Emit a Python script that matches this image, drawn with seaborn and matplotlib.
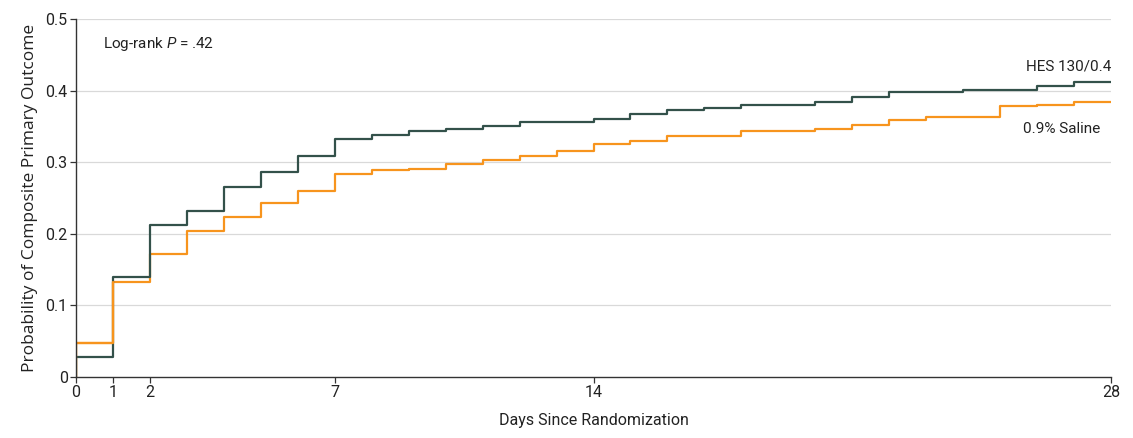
import matplotlib
matplotlib.use("Agg")
import matplotlib.pyplot as plt
import pandas as pd
import seaborn as sns

# Cumulative probability of the composite primary outcome by day
days = [0, 0, 1, 2, 3, 4, 5, 6, 7, 8, 9, 10, 11, 12, 13, 14, 15, 16, 17, 18,
        19, 20, 21, 22, 23, 24, 25, 26, 27, 28]
hes = [0.0, 0.028, 0.139, 0.212, 0.232, 0.266, 0.287, 0.309, 0.333, 0.338,
       0.343, 0.347, 0.351, 0.356, 0.356, 0.360, 0.368, 0.373, 0.376, 0.380,
       0.380, 0.384, 0.391, 0.398, 0.398, 0.401, 0.401, 0.407, 0.412, 0.412]
saline = [0.0, 0.048, 0.132, 0.172, 0.204, 0.224, 0.243, 0.260, 0.284, 0.289,
          0.290, 0.298, 0.303, 0.309, 0.316, 0.325, 0.330, 0.337, 0.337, 0.343,
          0.343, 0.347, 0.352, 0.359, 0.363, 0.363, 0.378, 0.380, 0.384, 0.384]
groups = ["HES 130/0.4", "0.9% Saline"]
x_ticks = [0, 1, 2, 7, 14, 28]
y_ticks = [0, 0.1, 0.2, 0.3, 0.4, 0.5]
y_tick_labels = ["0", "0.1", "0.2", "0.3", "0.4", "0.5"]

df = pd.concat([
    pd.DataFrame({"day": days, "prob": hes, "group": groups[0]}),
    pd.DataFrame({"day": days, "prob": saline, "group": groups[1]}),
], ignore_index=True)

sns.set_theme(style="white")
plt.rcParams["font.family"] = ["Roboto", "DejaVu Sans"]
plt.rcParams["mathtext.fontset"] = "custom"
plt.rcParams["mathtext.it"] = "Roboto:italic"
plt.rcParams["mathtext.rm"] = "Roboto"

fig = plt.figure(figsize=(11.33, 4.38), dpi=100)
ax = fig.add_axes([0.0671, 0.1393, 0.9135, 0.8173])

palette = {groups[0]: "#33514a", groups[1]: "#f7941d"}
# saline first so HES sits on top where the curves touch
for g in [groups[1], groups[0]]:
    sns.lineplot(data=df[df["group"] == g], x="day", y="prob", ax=ax,
                 color=palette[g], linewidth=1.6, drawstyle="steps-post",
                 sort=False, estimator=None, legend=False)
# keep the saline start visible along the first day
sub = df[(df["group"] == groups[1]) & (df["day"] <= 1)]
sns.lineplot(data=sub, x="day", y="prob", ax=ax, color=palette[groups[1]],
             linewidth=1.6, drawstyle="steps-post", sort=False,
             estimator=None, legend=False)

ax.set_xlim(0, 28)
ax.set_ylim(0, 0.5)
ax.set_xticks(x_ticks)
ax.set_xticklabels([str(t) for t in x_ticks])
ax.set_yticks(y_ticks)
ax.set_yticklabels(y_tick_labels)
for y in y_ticks[1:]:
    ax.axhline(y, color="#d9d9d9", linewidth=0.9, zorder=0)

for s in ["top", "right"]:
    ax.spines[s].set_visible(False)
for s in ["left", "bottom"]:
    ax.spines[s].set_color("#333333")
    ax.spines[s].set_linewidth(1.0)
ax.tick_params(axis="both", which="major", direction="out", length=4,
               width=0.9, color="#333333", labelsize=11.5, labelcolor="#222222",
               bottom=True, left=True, pad=2)

ax.set_xlabel("Days Since Randomization", fontsize=11.5, color="#222222", labelpad=9)
ax.set_ylabel("Probability of Composite Primary Outcome", fontsize=12.5,
              color="#222222", family=["Open Sans", "DejaVu Sans"], labelpad=5)

ax.text(0.72, 0.465, "Log-rank $P$ = .42", fontsize=11, color="#222222",
        va="center", ha="left")

ax.text(28, 0.433, groups[0], fontsize=11, color="#222222", ha="right", va="center")
ax.text(27.7, 0.347, groups[1], fontsize=11, color="#222222", ha="right", va="center")

fig.savefig("out.png", dpi=100)
